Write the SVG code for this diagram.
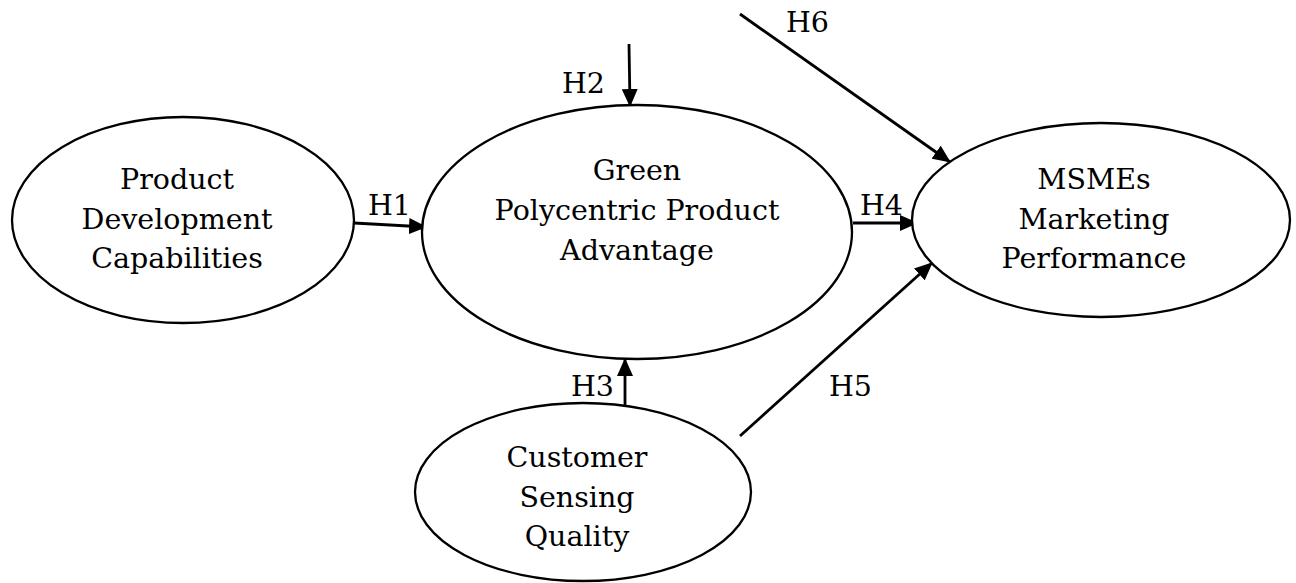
<svg xmlns="http://www.w3.org/2000/svg" width="1296" height="583" viewBox="0 0 1296 583">
<style>
.node{fill:#fff;stroke:#000;stroke-width:2.3}
.t{font-family:"DejaVu Serif","Liberation Serif",serif;font-size:28.5px;fill:#000;text-anchor:middle}
.lbl{font-family:"DejaVu Serif","Liberation Serif",serif;font-size:28.5px;fill:#000}
.edge{stroke:#000;stroke-width:2.8;fill:none;marker-end:url(#ah)}
</style>
<defs>
<marker id="ah" markerUnits="userSpaceOnUse" markerWidth="18" markerHeight="16" refX="17" refY="8" orient="auto">
<path d="M0,0 L18,8 L0,16 Z" fill="#000"/>
</marker>
</defs>
<rect width="1296" height="583" fill="#fff"/>
<g id="connectors">
<line class="edge" x1="354" y1="223" x2="426" y2="227"/>
<line class="edge" x1="629" y1="44" x2="630" y2="106"/>
<line class="edge" x1="740" y1="14" x2="950" y2="162"/>
<line class="edge" x1="853" y1="223" x2="917" y2="223"/>
<line class="edge" x1="740" y1="436" x2="932" y2="263"/>
<line class="edge" x1="625" y1="413" x2="625" y2="359"/>
<text class="lbl" x="368" y="215">H1</text>
<text class="lbl" x="562" y="93">H2</text>
<text class="lbl" x="571" y="396">H3</text>
<text class="lbl" x="860" y="215">H4</text>
<text class="lbl" x="829" y="396">H5</text>
<text class="lbl" x="786" y="32">H6</text>
</g>
<g id="pdc">
<ellipse class="node" cx="183" cy="220" rx="171" ry="103"/>
<text class="t" x="177" y="189">Product</text>
<text class="t" x="177" y="229">Development</text>
<text class="t" x="177" y="268">Capabilities</text>
</g>
<g id="gppa">
<ellipse class="node" cx="637" cy="232" rx="215" ry="127"/>
<text class="t" x="637" y="180">Green</text>
<text class="t" x="637" y="220">Polycentric Product</text>
<text class="t" x="637" y="260">Advantage</text>
</g>
<g id="mmp">
<ellipse class="node" cx="1101" cy="220" rx="189" ry="97"/>
<text class="t" x="1094" y="189">MSMEs</text>
<text class="t" x="1094" y="229">Marketing</text>
<text class="t" x="1094" y="268">Performance</text>
</g>
<g id="csq">
<ellipse class="node" cx="583" cy="492" rx="168" ry="89"/>
<text class="t" x="577" y="467">Customer</text>
<text class="t" x="577" y="507">Sensing</text>
<text class="t" x="577" y="546">Quality</text>
</g>
</svg>
